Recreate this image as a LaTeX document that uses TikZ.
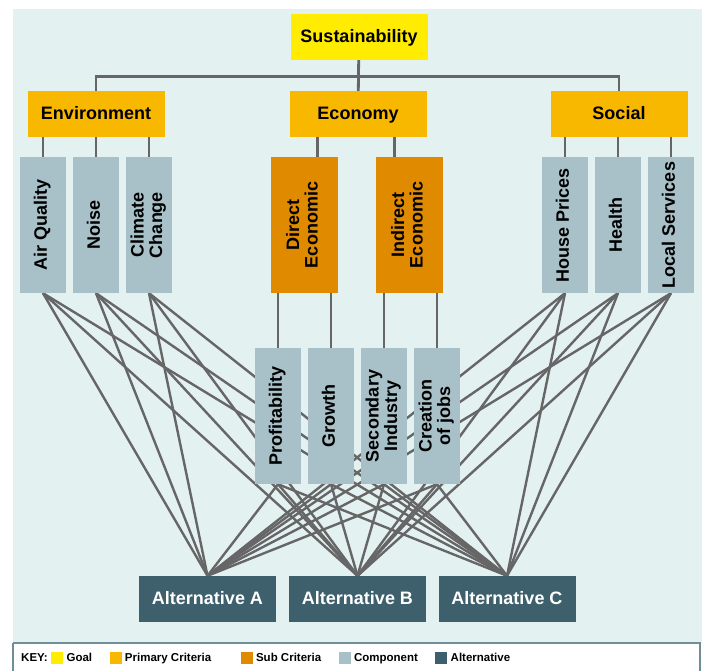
\documentclass[tikz,border=0pt]{standalone}
\usepackage{fontspec}
\setmainfont{Liberation Sans}
\usetikzlibrary{positioning,backgrounds}

\definecolor{bgcyan}{HTML}{E4F1F1}
\definecolor{goalyellow}{HTML}{FFEC00}
\definecolor{primorange}{HTML}{F9B800}
\definecolor{suborange}{HTML}{E08A00}
\definecolor{compblue}{HTML}{A8C0C8}
\definecolor{altslate}{HTML}{3E5F6C}
\definecolor{linegray}{HTML}{666666}
\definecolor{keyborder}{HTML}{6F8E99}

\newcommand{\vlabel}[1]{\rotatebox{90}{\begin{tabular}{@{}c@{}}#1\end{tabular}}}

\begin{document}
\begin{tikzpicture}[x=1pt, y=-1pt,
    box/.style={inner sep=0pt, align=center, font=\bfseries\fontsize{18}{18}\selectfont},
    flatbox/.style={box, minimum width=137, minimum height=46, text height=12.5, text depth=1},
    goalbox/.style={flatbox, fill=goalyellow},
    primbox/.style={flatbox, fill=primorange},
    subbox/.style={box, fill=suborange, minimum width=67, minimum height=136},
    compbox/.style={box, fill=compblue, minimum width=46, minimum height=136},
    altbox/.style={flatbox, fill=altslate, text=white},
    tree/.style={draw=linegray, line width=2.8pt},
    web/.style={draw=linegray, line width=2.4pt},
    keytext/.style={inner sep=0pt, text height=8.5, text depth=2, font=\bfseries\fontsize{11.5}{12}\selectfont},
    swatch/.style={minimum size=12, inner sep=0pt}]
    \useasboundingbox (0,0) rectangle (705,671);

    % goal and criteria
    \node[goalbox] (goal) at (359,37) {Sustainability};
    \node[primbox] (env) at (96,114) {Environment};
    \node[primbox] (econ) at (358,114) {Economy};
    \node[primbox] (soc) at (619,114) {Social};

    % components
    \node[compbox] (aq) at (43,225) {\vlabel{Air Quality}};
    \node[compbox] (noise) at (96,225) {\vlabel{Noise}};
    \node[compbox] (climate) at (149,225) {\vlabel{Climate\\Change}};
    \node[subbox] (direct) at (304.5,225) {\vlabel{Direct\\Economic}};
    \node[subbox] (indirect) at (409.5,225) {\vlabel{Indirect\\Economic}};
    \node[compbox] (house) at (565,225) {\vlabel{House Prices}};
    \node[compbox] (health) at (618,225) {\vlabel{Health}};
    \node[compbox] (local) at (671,225) {\vlabel{Local Services}};
    \node[compbox] (prof) at (278,416) {\vlabel{Profitability}};
    \node[compbox] (growth) at (331,416) {\vlabel{Growth}};
    \node[compbox] (secind) at (384,416) {\vlabel{Secondary\\Industry}};
    \node[compbox] (jobs) at (437,416) {\vlabel{Creation\\of jobs}};

    % alternatives
    \node[altbox] (altA) at (207.5,599) {Alternative A};
    \node[altbox] (altB) at (357.5,599) {Alternative B};
    \node[altbox] (altC) at (507,599) {Alternative C};

    \begin{pgfonlayer}{background}
        \fill[bgcyan] (13,9) rectangle (702,643);
        \draw[keyborder, fill=white, line width=1.5pt] (13,643) -- (700,643) -- (700,675) (13,675) -- (13,643);
        \foreach \c in {aq,noise,climate,prof,growth,secind,jobs,house,health,local}
            \foreach \a in {altA,altB,altC}
                \draw[web] (\c.south) -- (\a.north);
    \end{pgfonlayer}

    % tree
    \draw[tree] (goal) -- (econ);
    \draw[tree] (env.north) -- ++(0,-14) -| (soc.north);
    \foreach \c/\p in {aq/env,noise/env,climate/env,house/soc,health/soc,local/soc}
        \draw[tree] (\c.north) -- (\c.north |- \p.south);
    \draw[tree] ([xshift=13pt]direct.north) -- ([xshift=13pt]direct.north |- econ.south);
    \draw[tree] ([xshift=-15pt]indirect.north) -- ([xshift=-15pt]indirect.north |- econ.south);
    \foreach \c/\p in {prof/direct,growth/direct,secind/indirect,jobs/indirect}
        \draw[tree] (\c.north) -- (\c.north |- \p.south);

    % key
    \node[keytext, anchor=west] (key) at (21,658) {KEY:};
    \node[swatch, fill=goalyellow, right=3pt of key] (kgoal) {};
    \node[keytext, right=3pt of kgoal] (tgoal) {Goal};
    \node[swatch, fill=primorange, right=17pt of tgoal] (kprim) {};
    \node[keytext, right=3pt of kprim] (tprim) {Primary Criteria};
    \node[swatch, fill=suborange, right=29pt of tprim] (ksub) {};
    \node[keytext, right=3pt of ksub] (tsub) {Sub Criteria};
    \node[swatch, fill=compblue, right=17pt of tsub] (kcomp) {};
    \node[keytext, right=3pt of kcomp] (tcomp) {Component};
    \node[swatch, fill=altslate, right=17pt of tcomp] (kalt) {};
    \node[keytext, right=3pt of kalt] (talt) {Alternative};
\end{tikzpicture}
\end{document}
